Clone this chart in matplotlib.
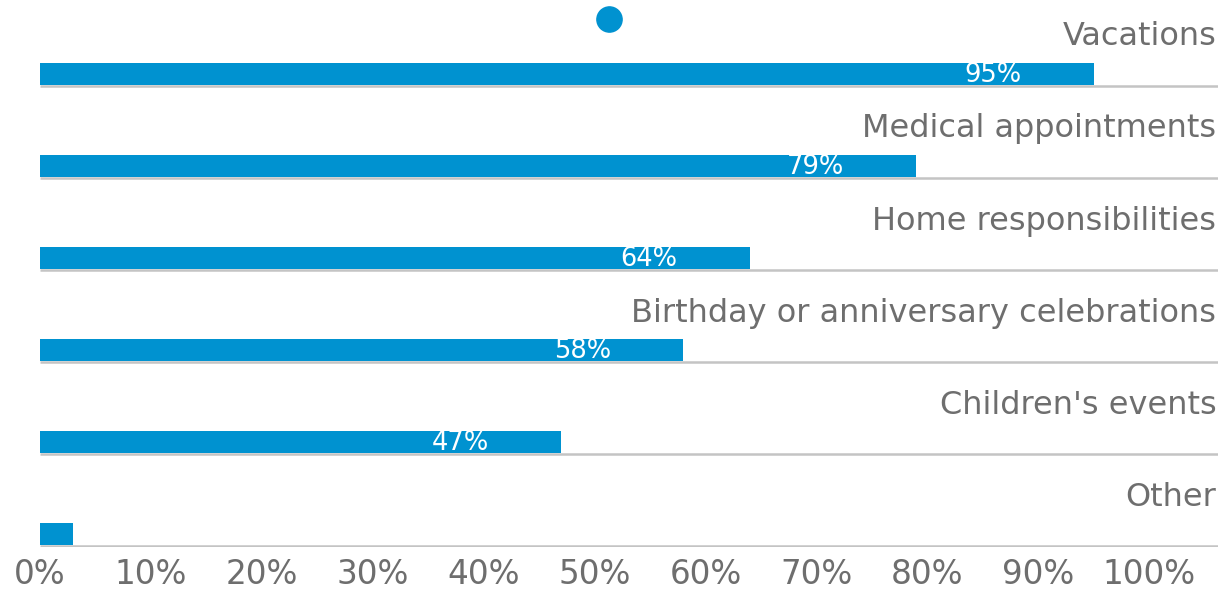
import matplotlib
matplotlib.use("Agg")
from matplotlib import pyplot as plt
import numpy as np

categories = ["Vacations", "Medical appointments", "Home responsibilities",
              "Birthday or anniversary celebrations", "Children's events", "Other"]
values = [95, 79, 64, 58, 47, 3]
value_labels = ["95%", "79%", "64%", "58%", "47%", ""]
ticks = [0, 10, 20, 30, 40, 50, 60, 70, 80, 90, 100]
tick_labels = ["0%", "10%", "20%", "30%", "40%", "50%", "60%", "70%", "80%", "90%", "100%"]
dot_x = 51.3

blue = "#0092d0"
grey_text = "#6e6e6e"
line_grey = "#c4c4c4"

plt.rcParams['font.family'] = ['DejaVu Sans']

fig = plt.figure(figsize=(12.23, 5.92), dpi=100)
ax = fig.add_axes([40 / 1223, 45 / 592, (1218 - 40) / 1223, 547 / 592])

xmax = 106.2
bar_h = 0.24

for i, (cat, v, lab) in enumerate(zip(categories, values, value_labels)):
    ax.barh(i - bar_h / 2, v, height=bar_h, color=blue, zorder=2)
    ax.plot([0, xmax], [i + 0.01, i + 0.01], color=line_grey, lw=1.8, zorder=1,
            solid_capstyle='butt')
    ax.text(xmax - 0.15, i - 0.52, cat, ha='right', va='center',
            fontsize=23, color=grey_text)
    if lab:
        ax.text(v - 9.1, i - bar_h / 2 + 0.01, lab, ha='center', va='center',
                fontsize=18.5, color='white', zorder=3)

ax.scatter([dot_x], [-0.71], s=330, color=blue, zorder=3, clip_on=False)

ax.set_xlim(0, xmax)
ax.set_ylim(5.02, -0.92)
ax.set_xticks(ticks)
ax.set_xticklabels(tick_labels, fontsize=23.5, color=grey_text)
ax.tick_params(axis='x', length=0, pad=8)
ax.set_yticks([])
for s in ax.spines.values():
    s.set_visible(False)

fig.savefig("out.png", dpi=100)
